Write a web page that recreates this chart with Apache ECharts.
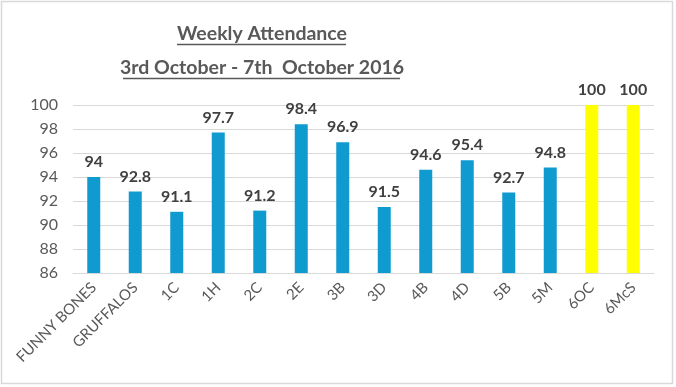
<!DOCTYPE html>
<html><head><meta charset="utf-8">
<script src="https://cdn.jsdelivr.net/npm/echarts@6/dist/echarts.min.js"></script>
<style>html,body{margin:0;padding:0;background:#fff}#c{width:676px;height:387px}</style>
</head><body><div id="c"></div>
<script>
const categories = ['FUNNY BONES','GRUFFALOS','1C','1H','2C','2E','3B','3D','4B','4D','5B','5M','6OC','6McS'];
const values = [94, 92.8, 91.1, 97.7, 91.2, 98.4, 96.9, 91.5, 94.6, 95.4, 92.7, 94.8, 100, 100];
const barColors = ['#0f9bd0','#0f9bd0','#0f9bd0','#0f9bd0','#0f9bd0','#0f9bd0','#0f9bd0','#0f9bd0','#0f9bd0','#0f9bd0','#0f9bd0','#0f9bd0','#ffff00','#ffff00'];
const yTicks = [86, 88, 90, 92, 94, 96, 98, 100];
const titleLines = ['Weekly Attendance', '3rd October - 7th  October 2016'];

const chart = echarts.init(document.getElementById('c'));
const FONT = 'Lato, "Open Sans", sans-serif';
chart.setOption({
  animation: false,
  grid: {left: 73, right: 22, top: 105, bottom: 114},
  xAxis: {
    type: 'category', data: categories,
    axisLine: {show: true, lineStyle: {color: '#d9d9d9'}},
    axisTick: {show: false},
    axisLabel: {rotate: 45, color: '#595959', fontSize: 15, fontFamily: FONT, margin: 12, interval: 0}
  },
  yAxis: {
    type: 'value', min: yTicks[0], max: yTicks[yTicks.length-1], interval: 2,
    axisLine: {show: false}, axisTick: {show: false},
    splitLine: {lineStyle: {color: '#d9d9d9'}},
    axisLabel: {color: '#595959', fontSize: 16, fontFamily: FONT, margin: 15}
  },
  series: [{
    type: 'bar', barWidth: 13,
    data: values.map((v, i) => ({value: v, itemStyle: {color: barColors[i]}})),
    label: {show: true, position: 'top', distance: 7, color: '#404040', fontSize: 16, fontWeight: 'bold', fontFamily: FONT}
  }],
  graphic: [
    {type: 'rect', shape: {x: 1.5, y: 1.5, width: 671, height: 382}, style: {fill: 'none', stroke: '#d9d9d9', lineWidth: 1.5}},
    {type: 'text', x: 262, y: 34, style: {text: titleLines[0], font: 'bold 19.5px Lato, sans-serif', fill: '#595959', align: 'center', verticalAlign: 'middle'}},
    {type: 'text', x: 262, y: 68, style: {text: titleLines[1], font: 'bold 19.5px Lato, sans-serif', fill: '#595959', align: 'center', verticalAlign: 'middle'}},
    {type: 'line', shape: {x1: 177, y1: 44.5, x2: 346, y2: 44.5}, style: {stroke: '#595959', lineWidth: 1.5}},
    {type: 'line', shape: {x1: 123, y1: 78.5, x2: 400, y2: 78.5}, style: {stroke: '#595959', lineWidth: 1.5}}
  ]
});
</script></body></html>
